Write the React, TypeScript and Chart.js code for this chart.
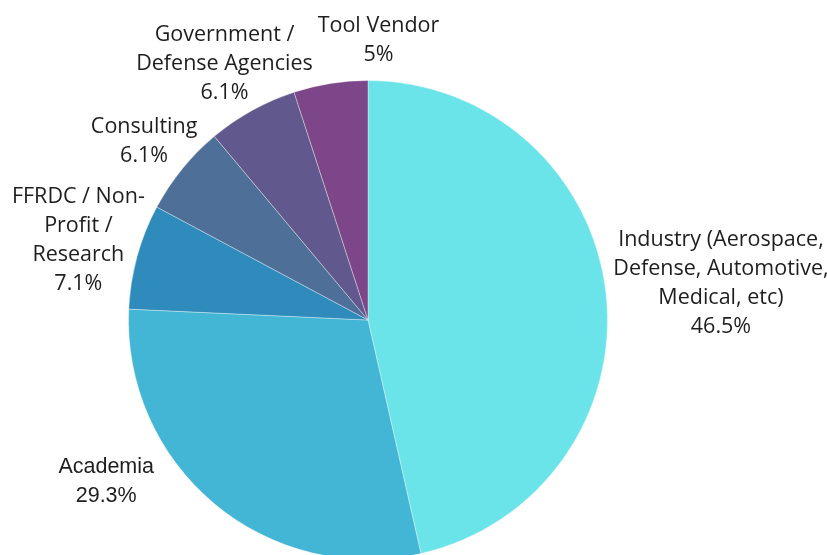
import { useEffect, useRef } from 'react';
import { Chart, registerables } from 'chart.js';

Chart.register(...registerables);

const categories = [
  'Industry (Aerospace, Defense, Automotive, Medical, etc)',
  'Academia',
  'FFRDC / Non-Profit / Research',
  'Consulting',
  'Government / Defense Agencies',
  'Tool Vendor',
];
const categoryLines = [
  ['Industry (Aerospace,', 'Defense, Automotive,', 'Medical, etc)'],
  ['Academia'],
  ['FFRDC / Non-', 'Profit /', 'Research'],
  ['Consulting'],
  ['Government /', 'Defense Agencies'],
  ['Tool Vendor'],
];
const shares = [46.5, 29.3, 7.1, 6.1, 6.1, 5];
const sliceColors = ['#6AE4E8', '#43B6D5', '#2E8BBB', '#4D6F98', '#61598D', '#7D4689'];

const labelFonts = [
  '21.5px "Open Sans"',
  '21.5px "Liberation Sans"',
  '21.5px "Open Sans"',
  '21.5px "Open Sans"',
  '21.5px "Open Sans"',
  '21.5px "Open Sans"',
];
const labelNudges = [
  [-2, -2],
  [-71, -52],
  [15, 2],
  [11, -3],
  [20, 0],
  [59, -5],
];

const outLabels = {
  id: 'outLabels',
  afterDatasetsDraw(chart: any) {
    const ctx = chart.ctx;
    const meta = chart.getDatasetMeta(0);
    meta.data.forEach((arc: any, i: number) => {
      const p = arc.getProps(['x', 'y', 'startAngle', 'endAngle', 'outerRadius'], true);
      const mid = (p.startAngle + p.endAngle) / 2;
      const lines = [...categoryLines[i], shares[i] + '%'];
      ctx.save();
      ctx.font = labelFonts[i];
      const w = Math.max(...lines.map((l: string) => ctx.measureText(l).width));
      const lh = 29;
      const h = lh * lines.length;
      const r = p.outerRadius + 10;
      const ax = p.x + Math.cos(mid) * r;
      const ay = p.y + Math.sin(mid) * r;
      const cx = ax + (Math.cos(mid) * w) / 2 + labelNudges[i][0];
      const cy = ay + (Math.sin(mid) * h) / 2 + labelNudges[i][1];
      ctx.fillStyle = '#1e1e1e';
      ctx.textAlign = 'center';
      ctx.textBaseline = 'middle';
      lines.forEach((l: string, k: number) => ctx.fillText(l, cx, cy - h / 2 + lh * (k + 0.5)));
      ctx.restore();
    });
  },
};

export default function App() {
  const ref = useRef<HTMLCanvasElement>(null);
  useEffect(() => {
    if (!ref.current) return;
    const chart = new Chart(ref.current, {
      type: 'pie',
      data: {
        labels: categories,
        datasets: [
          {
            data: shares,
            backgroundColor: sliceColors,
            borderColor: 'rgba(255,255,255,0.35)',
            borderWidth: 1,
          },
        ],
      },
      options: {
        responsive: false,
        animation: false,
        layout: { padding: { left: 128, top: 80, right: 219, bottom: 60 } },
        plugins: { legend: { display: false }, tooltip: { enabled: false } },
      },
      plugins: [outLabels],
    });
    return () => chart.destroy();
  }, []);
  return (
    <div style={{ position: 'fixed', left: 0, top: 0, width: 827, height: 620 }}>
      <canvas ref={ref} width={827} height={620} style={{ display: 'block' }} />
    </div>
  );
}
